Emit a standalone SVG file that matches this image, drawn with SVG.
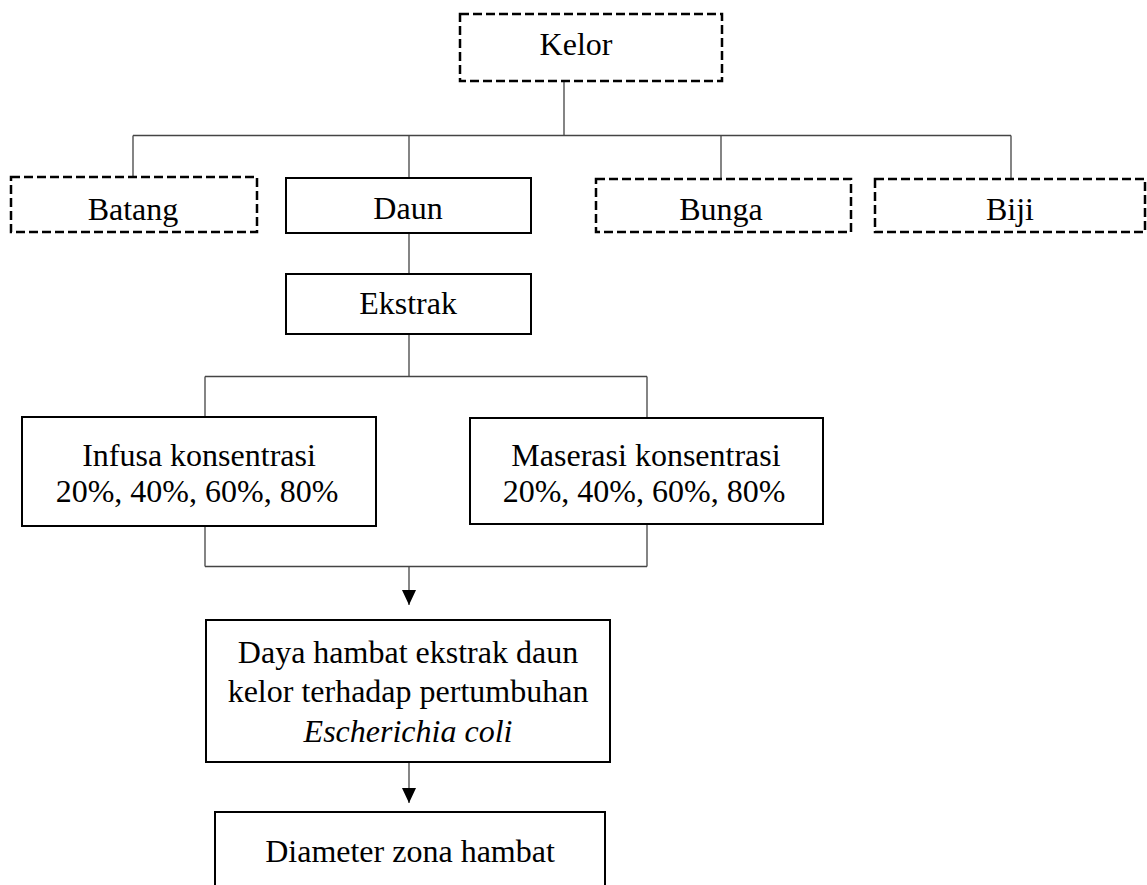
<svg xmlns="http://www.w3.org/2000/svg" width="1147" height="885" viewBox="0 0 1147 885">
<defs>
<marker id="arr" viewBox="0 0 15 14" refX="15" refY="7" markerWidth="15" markerHeight="14" markerUnits="userSpaceOnUse" orient="auto">
<path d="M0,0 L15,7 L0,14 Z" fill="#000"/>
</marker>
<style>
.box{fill:#fff;stroke:#000;stroke-width:2}
.dash{fill:#fff;stroke:#000;stroke-width:2.5;stroke-dasharray:9 4}
.ln{fill:none;stroke:#444;stroke-width:1.3}
.t{font-family:"Liberation Serif","Times New Roman",serif;font-size:32px;fill:#000;text-anchor:middle}
</style>
</defs>
<rect width="1147" height="885" fill="#fff"/>
<g id="connectors">
<path class="ln" d="M564,81 V135.5 M133,135.5 H1011 M133,135.5 V177 M409,135.5 V178 M721,135.5 V179 M1011,135.5 V179"/>
<path class="ln" d="M409,233 V274 M409,334 V376.5 M205,376.5 H647 M205,376.5 V417 M647,376.5 V418"/>
<path class="ln" d="M205,526 V566.5 M647,524 V566.5 M205,566.5 H647"/>
<path class="ln" d="M409,566.5 V605" marker-end="url(#arr)"/>
<path class="ln" d="M409,762 V803" marker-end="url(#arr)"/>
</g>
<g id="kelor"><rect class="dash" x="460" y="14" width="262" height="67"/><text class="t" x="576" y="55">Kelor</text></g>
<g id="batang"><rect class="dash" x="11" y="177" width="246" height="55"/><text class="t" x="133" y="220">Batang</text></g>
<g id="daun"><rect class="box" x="286" y="178" width="245" height="55"/><text class="t" x="408" y="219">Daun</text></g>
<g id="bunga"><rect class="dash" x="596" y="179" width="255" height="53"/><text class="t" x="721" y="220">Bunga</text></g>
<g id="biji"><rect class="dash" x="875" y="179" width="270" height="53"/><text class="t" x="1010" y="220">Biji</text></g>
<g id="ekstrak"><rect class="box" x="286" y="274" width="245" height="60"/><text class="t" x="408" y="314">Ekstrak</text></g>
<g id="infusa"><rect class="box" x="22" y="417" width="354" height="109"/><text class="t" x="199" y="466">Infusa konsentrasi</text><text class="t" x="197" y="502">20%, 40%, 60%, 80%</text></g>
<g id="maserasi"><rect class="box" x="470" y="418" width="353" height="106"/><text class="t" x="646" y="466">Maserasi konsentrasi</text><text class="t" x="644" y="502">20%, 40%, 60%, 80%</text></g>
<g id="daya"><rect class="box" x="206" y="620" width="404" height="142"/><text class="t" x="408" y="663">Daya hambat ekstrak daun</text><text class="t" x="408" y="702">kelor terhadap pertumbuhan</text><text class="t" x="408" y="742" font-style="italic">Escherichia coli</text></g>
<g id="diameter"><rect class="box" x="215" y="812" width="390" height="100"/><text class="t" x="410" y="862">Diameter zona hambat</text></g>
</svg>
